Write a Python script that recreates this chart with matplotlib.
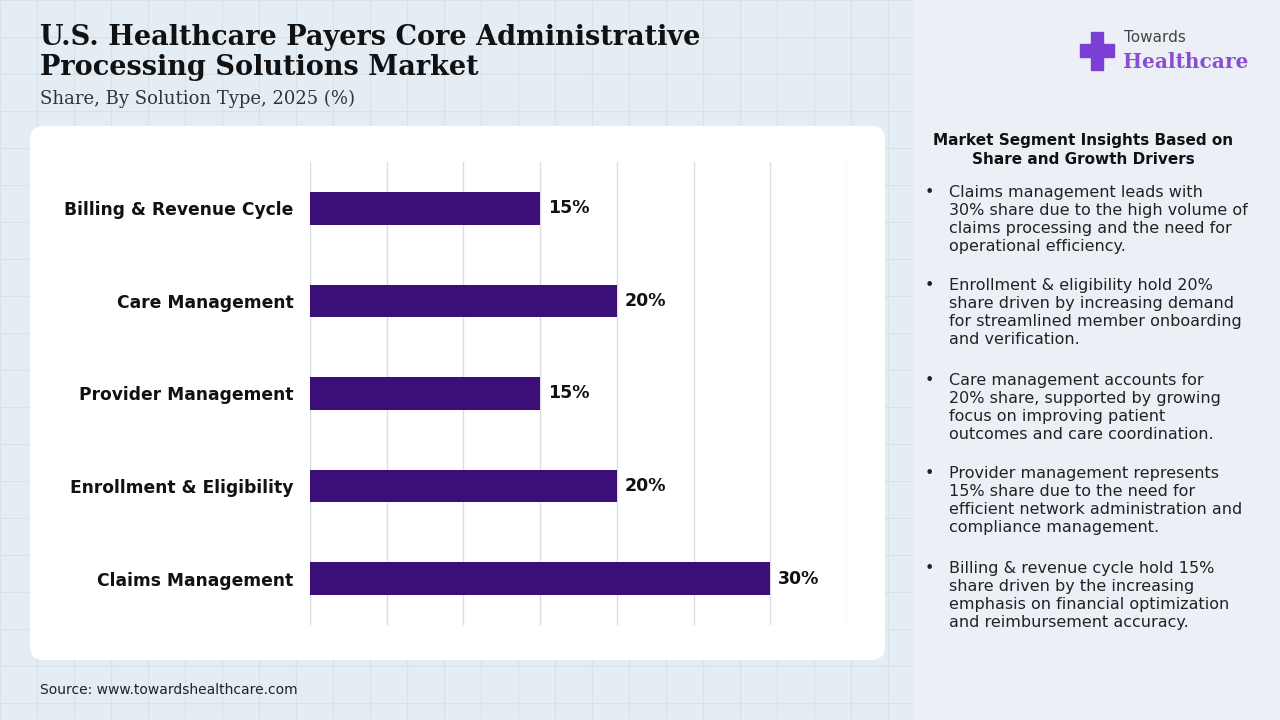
import matplotlib
matplotlib.use("Agg")
import matplotlib.pyplot as plt
from matplotlib.patches import FancyBboxPatch, Rectangle

categories = ["Claims Management", "Enrollment & Eligibility", "Provider Management",
              "Care Management", "Billing & Revenue Cycle"]
values = [30, 20, 15, 20, 15]
xticks = [0, 5, 10, 15, 20, 25, 30, 35]

bullets = [
    "Claims management leads with\n30% share due to the high volume of\nclaims processing and the need for\noperational efficiency.",
    "Enrollment & eligibility hold 20%\nshare driven by increasing demand\nfor streamlined member onboarding\nand verification.",
    "Care management accounts for\n20% share, supported by growing\nfocus on improving patient\noutcomes and care coordination.",
    "Provider management represents\n15% share due to the need for\nefficient network administration and\ncompliance management.",
    "Billing & revenue cycle hold 15%\nshare driven by the increasing\nemphasis on financial optimization\nand reimbursement accuracy.",
]

W, H = 1280, 720
fig = plt.figure(figsize=(12.8, 7.2), dpi=100)
fig.patch.set_facecolor("#e4edf3")
bg = fig.add_axes([0, 0, 1, 1], zorder=-10)
bg.set_xlim(0, W); bg.set_ylim(H, 0); bg.axis("off")
for gx in range(0, 913, 37):
    bg.axvline(gx, color="#d6e2ea", lw=0.8, zorder=0)
for gy in range(0, H, 37):
    bg.plot([0, 913], [gy, gy], color="#d6e2ea", lw=0.8, zorder=0)
bg.add_patch(Rectangle((913, 0), W - 913, H, color="#eceff6", zorder=1))
bg.add_patch(FancyBboxPatch((30, 126), 855, 534, boxstyle="round,pad=0,rounding_size=14",
                            fc="white", ec="none", zorder=2))

bg.text(40, 24, "U.S. Healthcare Payers Core Administrative\nProcessing Solutions Market",
        family="DejaVu Serif", weight="bold", fontsize=19.5, va="top", ha="left",
        linespacing=1.12, color="#111111", zorder=3)
bg.text(40, 99, "Share, By Solution Type, 2025 (%)", family="DejaVu Serif", fontsize=13,
        va="center", color="#333333", zorder=3)
bg.text(40, 690, "Source: www.towardshealthcare.com", fontsize=10, va="center", color="#222222", zorder=3)

# logo
bg.add_patch(Rectangle((1091, 32), 12, 38, color="#7b3fd6", zorder=3))
bg.add_patch(Rectangle((1080, 44), 34, 13, color="#7b3fd6", zorder=3))
bg.text(1124, 38, "Towards", fontsize=11, color="#444444", va="center", zorder=3)
bg.text(1123, 62, "Healthcare", family="DejaVu Serif", weight="bold", fontsize=14.5,
        color="#8a4fd0", va="center", zorder=3)

bg.text(1083, 150, "Market Segment Insights Based on\nShare and Growth Drivers", fontsize=11,
        weight="bold", ha="center", va="center", linespacing=1.3, color="#111111", zorder=3)
ys = [185, 278, 373, 466, 561]
for y, b in zip(ys, bullets):
    bg.text(925, y, "•", fontsize=11.5, va="top", color="#222222", zorder=3)
    bg.text(949, y, b, fontsize=11.5, va="top", linespacing=1.25, color="#222222", zorder=3)

ax = fig.add_axes([310 / W, 1 - 625 / H, 537 / W, 463 / H], zorder=5)
ax.patch.set_alpha(0)
pos = list(range(len(categories)))
ax.barh(pos, values, height=0.35, color="#3b0e78", zorder=3)
for p, v in zip(pos, values):
    ax.text(v + 0.5, p, f"{v}%", va="center", ha="left", fontsize=12.5, weight="bold", color="#111111")
ax.set_xlim(0, 35); ax.set_ylim(-0.5, 4.5)
ax.set_xticks(xticks); ax.set_xticklabels([])
ax.tick_params(axis="x", length=0)
ax.set_yticks(pos); ax.set_yticklabels(categories, fontsize=12.3, weight="bold", color="#111111")
ax.tick_params(axis="y", length=0, pad=12)
ax.grid(axis="x", color="#dddddd", lw=1, zorder=0)
for s in ax.spines.values():
    s.set_visible(False)

fig.savefig("out.png", dpi=100)
